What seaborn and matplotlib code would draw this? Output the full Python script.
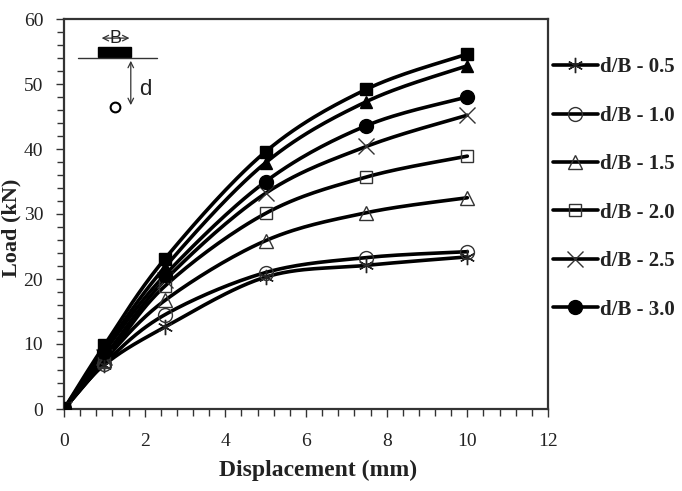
import numpy as np
import pandas as pd
import matplotlib
matplotlib.use("Agg")
import matplotlib.pyplot as plt
import seaborn as sns
from matplotlib.lines import Line2D
from matplotlib.patches import Rectangle

# ---- data ----
displacement = [0, 1, 2.5, 5, 7.5, 10]
load_05 = [0, 6.8, 12.6, 20.3, 22.1, 23.4]
load_10 = [0, 7.0, 14.5, 21.0, 23.3, 24.2]
load_15 = [0, 7.5, 16.7, 25.9, 30.2, 32.5]
load_20 = [0, 7.3, 18.9, 30.1, 35.7, 38.9]
load_25 = [0, 8.0, 19.8, 33.2, 40.4, 45.2]
load_30 = [0, 8.8, 20.6, 35.0, 43.6, 48.0]
load_extra_tri = [0, 9.2, 21.8, 37.9, 47.3, 52.8]
load_extra_sq = [0, 9.8, 23.1, 39.6, 49.2, 54.6]
series_labels = ["d/B - 0.5", "d/B - 1.0", "d/B - 1.5", "d/B - 2.0", "d/B - 2.5", "d/B - 3.0"]
x_ticks = [0, 2, 4, 6, 8, 10, 12]
y_ticks = [0, 10, 20, 30, 40, 50, 60]

sns.set_theme(style="white")
plt.rcParams['font.family'] = ['Liberation Serif', 'DejaVu Serif']

fig = plt.figure(figsize=(6.82, 4.91), dpi=100)
ax = fig.add_axes([64/682, (491-409)/491, 484/682, 390/491])

def smooth(xs, ys, n=30):
    xs = np.asarray(xs, float); ys = np.asarray(ys, float)
    P = np.column_stack([xs, ys])
    P = np.vstack([P[0], P, P[-1]])
    out = []
    for i in range(1, len(P) - 2):
        p0, p1, p2, p3 = P[i-1], P[i], P[i+1], P[i+2]
        c1 = p1 + (p2 - p0) / 6.0
        c2 = p2 - (p3 - p1) / 6.0
        t = np.linspace(0, 1, n)[:, None]
        seg = ((1-t)**3)*p1 + 3*((1-t)**2)*t*c1 + 3*(1-t)*t**2*c2 + t**3*p2
        out.append(seg if i == 1 else seg[1:])
    s = np.vstack(out)
    return s[:, 0], s[:, 1]

styles = [
    (load_05, dict(marker=(6, 2, 0), ms=11, mfc='none', mec='#222222', mew=1.0), series_labels[0]),
    (load_10, dict(marker='o', ms=10, mfc='none', mec='#333333', mew=1.0), series_labels[1]),
    (load_15, dict(marker='^', ms=10, mfc='none', mec='#333333', mew=1.0), series_labels[2]),
    (load_20, dict(marker='s', ms=8, mfc='none', mec='#333333', mew=1.0), series_labels[3]),
    (load_25, dict(marker='x', ms=11, mfc='none', mec='#333333', mew=1.0), series_labels[4]),
    (load_30, dict(marker='o', ms=10, mfc='black', mec='black', mew=1.0), series_labels[5]),
    (load_extra_tri, dict(marker='^', ms=9, mfc='black', mec='black', mew=1.0), None),
    (load_extra_sq, dict(marker='s', ms=8, mfc='black', mec='black', mew=1.0), None),
]

handles = []
for ys, mk, lab in styles:
    sx, sy = smooth(displacement, ys)
    sns.lineplot(x=sx, y=sy, ax=ax, color='black', lw=2.6, sort=False, estimator=None, zorder=2)
    ax.plot(displacement, ys, ls='none', zorder=3, **mk)
    if lab is not None:
        handles.append(Line2D([], [], color='black', lw=2.6, label=lab, **mk))

ax.set_xlim(0, 12)
ax.set_ylim(0, 60)
ax.set_xticks(x_ticks)
ax.set_yticks(y_ticks)
ax.set_xticks(np.arange(0, 12.01, 0.4), minor=True)
ax.set_yticks(np.arange(0, 60.01, 2), minor=True)
ax.tick_params(axis='both', which='both', direction='out', color='#333333', width=1.0,
               bottom=True, left=True, top=False, right=False)
ax.tick_params(axis='both', which='major', length=6, labelsize=14, labelcolor='#222222')
ax.tick_params(axis='x', which='major', pad=11)
ax.tick_params(axis='y', which='major', pad=9)
ax.tick_params(axis='both', which='minor', length=5)
for sp in ax.spines.values():
    sp.set_color('#333333')
    sp.set_linewidth(1.6)
    sp.set_visible(True)

ax.set_xlabel("Displacement (mm)", fontsize=17, fontweight='bold', color='#222222')
ax.xaxis.set_label_coords(0.525, -0.13)
ax.set_ylabel("Load (kN)", fontsize=16, fontweight='bold', color='#222222')
ax.yaxis.set_label_coords(-0.088, 0.464)

leg = ax.legend(handles=handles, loc='upper left', bbox_to_anchor=(0.993, 0.923),
                frameon=False, handlelength=2.16, handletextpad=0.1, labelspacing=1.366,
                prop=dict(family='Liberation Serif', weight='bold', size=15), borderaxespad=0)
for t in leg.get_texts():
    t.set_color('#222222')

# inset sketch (footing, depth d, void)
T = ax.transAxes
ax.add_patch(Rectangle((0.070, 0.903), 0.068, 0.025, transform=T, color='black', zorder=5))
ax.plot([0.029, 0.192], [0.901, 0.901], transform=T, color='#333333', lw=1.0, zorder=5)
ax.annotate("", xy=(0.072, 0.951), xytext=(0.141, 0.951), xycoords=T, textcoords=T,
            arrowprops=dict(arrowstyle='<->', lw=0.9, color='#333333', mutation_scale=10))
ax.text(0.106, 0.951, "B", transform=T, ha='center', va='center', fontsize=13,
        family='Liberation Sans', color='#222222')
ax.annotate("", xy=(0.138, 0.772), xytext=(0.138, 0.900), xycoords=T, textcoords=T,
            arrowprops=dict(arrowstyle='<->', lw=0.9, color='#333333', mutation_scale=10))
ax.text(0.168, 0.820, "d", transform=T, ha='center', va='center', fontsize=16,
        family='Liberation Sans', color='#222222')
ax.plot([0.105], [0.774], transform=T, marker='o', ms=7, mfc='white', mec='black', mew=1.5, zorder=5)

fig.savefig("out.png", dpi=100)
